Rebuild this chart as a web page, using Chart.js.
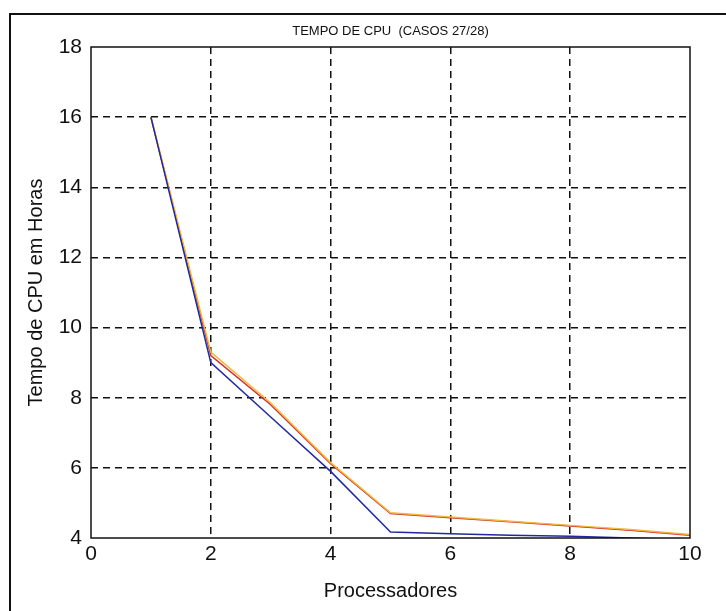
<!DOCTYPE html>
<html>
<head>
<meta charset="utf-8">
<script src="https://cdn.jsdelivr.net/npm/chart.js"></script>
<style>
  html, body { margin: 0; padding: 0; background: #fff; }
  #wrap { position: relative; width: 726px; height: 611px; overflow: hidden; }
  #frame { position: absolute; left: 9px; top: 13px; width: 760px; height: 700px;
           border-left: 2px solid #111; border-top: 2px solid #111; }
  canvas { position: absolute; left: 0; top: 0; }
</style>
</head>
<body>
<div id="wrap">
  <div id="frame"></div>
  <canvas id="cpu" width="726" height="611"></canvas>
</div>
<script>
// Processadores
const processadores = [1, 2, 3, 4, 5, 6, 7, 8, 9, 10];
// Tempo de CPU em horas
const serieAzul     = [16.0, 9.0, 7.45, 5.9, 4.17, 4.12, 4.08, 4.05, 4.0, 3.95];
const serieLaranja  = [16.0, 9.3, 7.85, 6.15, 4.72, 4.6, 4.48, 4.36, 4.24, 4.1];
const serieVermelha = [16.0, 9.2, 7.8, 6.12, 4.7, 4.58, 4.46, 4.34, 4.22, 4.08];
const xTicks = [0, 2, 4, 6, 8, 10];
const yTicks = [4, 6, 8, 10, 12, 14, 16, 18];

function pontos(ys) {
    return processadores.map((x, i) => ({ x: x, y: ys[i] }));
}

// titulo desenhado acima da area do grafico
const tituloPlugin = {
    id: 'tituloPlugin',
    afterDraw(chart) {
        const { ctx, chartArea } = chart;
        ctx.save();
        ctx.font = '13px "Liberation Sans", Arial, sans-serif';
        ctx.fillStyle = '#111';
        ctx.textAlign = 'center';
        ctx.textBaseline = 'middle';
        ctx.fillText('TEMPO DE CPU  (CASOS 27/28)', (chartArea.left + chartArea.right) / 2, 31);
        // moldura da area
        ctx.strokeStyle = '#111';
        ctx.lineWidth = 1.5;
        ctx.strokeRect(chartArea.left, chartArea.top, chartArea.right - chartArea.left, chartArea.bottom - chartArea.top);
        ctx.restore();
    }
};

const fonte = '"Liberation Sans", Arial, sans-serif';

new Chart(document.getElementById('cpu'), {
    type: 'line',
    data: {
        datasets: [
            {
                label: 'Azul',
                data: pontos(serieAzul),
                borderColor: '#1f2a9c',
                borderWidth: 1.5,
                pointRadius: 0,
                tension: 0,
                order: 1
            },
            {
                label: 'Laranja',
                data: pontos(serieLaranja),
                borderColor: '#f2b83c',
                borderWidth: 1.5,
                pointRadius: 0,
                tension: 0,
                order: 2
            },
            {
                label: 'Vermelha',
                data: pontos(serieVermelha),
                borderColor: '#d0302a',
                borderWidth: 1.5,
                pointRadius: 0,
                tension: 0,
                order: 3
            }
        ]
    },
    options: {
        responsive: false,
        animation: false,
        layout: { padding: { left: 24, right: 36, top: 47, bottom: 0 } },
        plugins: {
            legend: { display: false },
            tooltip: { enabled: false }
        },
        scales: {
            x: {
                type: 'linear',
                min: 0,
                max: 10,
                afterBuildTicks: function(scale) {
                    scale.ticks = xTicks.map(v => ({ value: v }));
                },
                afterFit: function(scale) { scale.height = 73; },
                grid: {
                    color: function(c) { return (c.tick.value > 0 && c.tick.value < 10) ? '#111' : 'rgba(0,0,0,0)'; },
                    lineWidth: 1.5,
                    drawTicks: false
                },
                border: { display: false, dash: [7, 5] },
                ticks: {
                    color: '#111',
                    padding: 4,
                    maxRotation: 0,
                    font: { family: fonte, size: 21 }
                },
                title: {
                    display: true,
                    text: 'Processadores',
                    color: '#111',
                    padding: { top: 0, bottom: 8 },
                    font: { family: fonte, size: 20 }
                }
            },
            y: {
                type: 'linear',
                min: 4,
                max: 18,
                afterBuildTicks: function(scale) {
                    scale.ticks = yTicks.map(v => ({ value: v }));
                },
                afterFit: function(scale) { scale.width = 67; },
                grid: {
                    color: function(c) { return (c.tick.value > 4 && c.tick.value < 18) ? '#111' : 'rgba(0,0,0,0)'; },
                    lineWidth: 1.5,
                    drawTicks: false
                },
                border: { display: false, dash: [7, 5] },
                ticks: {
                    color: '#111',
                    padding: 9,
                    font: { family: fonte, size: 21 }
                },
                title: {
                    display: true,
                    text: 'Tempo de CPU em Horas',
                    color: '#111',
                    padding: { top: 0, bottom: 0 },
                    font: { family: fonte, size: 20 }
                }
            }
        }
    },
    plugins: [tituloPlugin]
});
</script>
</body>
</html>
